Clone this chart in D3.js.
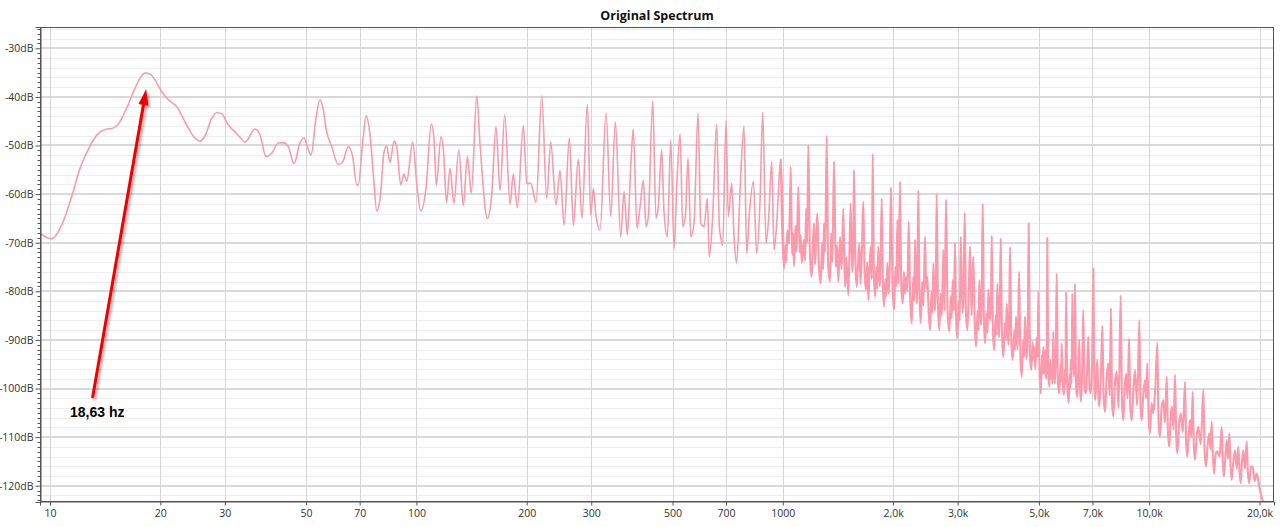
<!DOCTYPE html>
<html><head><meta charset="utf-8">
<script src="https://cdn.jsdelivr.net/npm/d3@7"></script>
<style>body{margin:0;background:#fff;overflow:hidden}</style>
</head><body><svg id="c" width="1280" height="527"></svg>
<script>
const chartTitle = "Original Spectrum";
const xTickValues = [10,20,30,50,70,100,200,300,500,700,1000,2000,3000,5000,7000,10000,20000];
const xTickLabels = ["10","20","30","50","70","100","200","300","500","700","1000","2,0k","3,0k","5,0k","7,0k","10,0k","20,0k"];
const yTickValues = [-30,-40,-50,-60,-70,-80,-90,-100,-110,-120];
const yTickLabels = ["-30dB","-40dB","-50dB","-60dB","-70dB","-80dB","-90dB","-100dB","-110dB","-120dB"];
const xDomain = [9.39, 21907];
const yDomain = [-123.35, -25.62];
// [frequency Hz, level dB] below 1 kHz
const spectrumLow = [[9.39,-68.1],[10.1,-69.2],[10.76,-66.4],[11.46,-60.5],[12.08,-54.7],[12.86,-50.1],[13.55,-47.5],[14.28,-46.6],[14.74,-46.5],[15.46,-45.3],[16.19,-42.3],[17.06,-38.2],[17.6,-36.2],[18.16,-35.1],[18.75,-35.3],[19.34,-36.5],[20.17,-38.9],[21.03,-40.6],[22.16,-42.0],[23.61,-45.8],[24.88,-48.5],[25.67,-49.1],[26.49,-48.0],[27.63,-44.4],[28.5,-43.2],[29.42,-43.5],[30.66,-45.8],[31.98,-47.2],[33.0,-48.3],[34.07,-49.3],[36.27,-46.6],[37.42,-47.8],[38.86,-52.3],[40.27,-51.6],[42.0,-49.5],[43.34,-49.4],[44.7,-50.2],[46.33,-53.7],[48.1,-49.5],[49.33,-48.4],[50.37,-50.2],[51.55,-52.0],[53.2,-44.4],[54.56,-40.6],[55.49,-42.0],[56.9,-47.2],[58.72,-50.2],[61.2,-53.9],[62.8,-53.5],[65.2,-50.2],[67.0,-52.3],[68.7,-58.1],[69.4,-58.1],[71.35,-49.2],[72.86,-43.9],[74.7,-47.8],[76.3,-56.1],[77.95,-63.5],[79.6,-60.9],[81.6,-51.3],[82.98,-50.1],[84.7,-53.5],[86.9,-49.1],[88.35,-50.2],[90.6,-58.1],[92.5,-55.9],[94.1,-57.4],[97.7,-49.3],[100.2,-57.8],[102.7,-63.5],[106.2,-58.8],[109.8,-45.6],[111.7,-48.5],[113.3,-58.2],[116.7,-48.2],[118.4,-50.6],[120.9,-61.7],[123.5,-54.7],[126.6,-61.9],[130.5,-50.9],[134.3,-62.4],[137.7,-52.3],[141.2,-59.8],[146.1,-39.8],[149.2,-49.9],[156.2,-65.0],[160.5,-60.2],[164.9,-46.1],[169.1,-59.2],[174.2,-43.7],[180.1,-62.1],[183.9,-55.9],[188.6,-62.8],[195.8,-45.9],[200.0,-57.8],[205.1,-57.8],[212.1,-61.7],[219.8,-39.8],[226.8,-60.9],[232.6,-49.3],[240.4,-62.2],[246.6,-55.2],[252.9,-66.4],[261.5,-48.4],[268.1,-66.4],[276.6,-52.8],[283.1,-65.0],[292.7,-41.5],[299.0,-64.3],[304,-58.8],[309.2,-64.6],[317.1,-67.4],[329.3,-43.2],[339.2,-64.6],[349.1,-45.1],[361.1,-68.8],[368.7,-59.5],[376.4,-68.4],[384.5,-54.4],[390.8,-46.6],[400,-67.0],[407.7,-62.6],[416.3,-57.2],[423.4,-66.7],[429.5,-64.6],[441.5,-40.8],[450.7,-65.0],[457.3,-62.6],[467.1,-50.9],[474.0,-63.6],[484,-68.8],[494.5,-48.9],[504.9,-71.2],[513.4,-58.5],[524.3,-47.6],[533.2,-66.7],[542.0,-64.6],[551.2,-52.6],[560.7,-68.8],[572.4,-66.0],[586.9,-43.4],[597.0,-66.0],[609.5,-66.7],[622.2,-60.9],[630.1,-72.9],[643.6,-64.6],[659.8,-45.6],[671.1,-66.7],[685.5,-70.5],[699.8,-44.9],[710,-64.6],[725.4,-57.8],[736,-68.8],[748.2,-74.2],[764.4,-59.2],[783.6,-46.0],[797.1,-72.2],[810.4,-64.0],[831,-57.4],[848.8,-72.2],[866.7,-61.2],[881.3,-43.2],[899.9,-70.1],[915.3,-64.6],[932.7,-53.3],[946.3,-71.5],[962.4,-66.0],[986.8,-52.8]];
// [frequency Hz, level dB] from 1 kHz up
const spectrumHigh = [[1007.6,-75.3],[1016,-70.5],[1022,-74.0],[1028.7,-67.4],[1040,-70.2],[1050.7,-54.4],[1060,-72.5],[1066,-68.0],[1073,-74.9],[1083,-66.5],[1090,-71.8],[1102.5,-58.5],[1112,-72.0],[1119,-68.5],[1126,-74.2],[1142.7,-69.4],[1150,-73.8],[1158,-63.0],[1165,-70.0],[1173.8,-49.9],[1186,-72.5],[1199.3,-77.0],[1208,-70.5],[1216.8,-66.0],[1225,-74.5],[1233,-69.0],[1242.3,-64.0],[1255,-75.0],[1269,-78.4],[1280,-70.0],[1288,-75.5],[1295.5,-66.0],[1305,-72.0],[1317.7,-48.0],[1330,-74.5],[1345.4,-78.0],[1355,-68.0],[1365,-74.0],[1379.7,-53.3],[1395,-75.0],[1405,-70.5],[1417.6,-78.0],[1432.5,-68.8],[1447,-75.5],[1462.5,-62.9],[1478,-79.1],[1490,-73.0],[1509.3,-80.8],[1520,-72.0],[1532,-61.9],[1545,-76.0],[1556,-72.5],[1564,-55.0],[1578,-74.0],[1591,-79.1],[1604,-74.5],[1617,-70.1],[1630,-78.5],[1643,-72.0],[1658,-61.6],[1672,-76.0],[1687,-79.7],[1700,-74.0],[1712,-81.8],[1725,-75.0],[1738,-70.8],[1750,-77.5],[1759.4,-51.7],[1772,-76.0],[1785,-81.1],[1800,-75.0],[1811,-79.5],[1822,-70.8],[1840,-79.0],[1850,-72.5],[1862,-60.9],[1875,-78.0],[1889,-83.2],[1905,-77.5],[1915,-81.0],[1929,-74.2],[1945,-80.5],[1958,-75.0],[1974,-58.6],[1993,-79.0],[2012,-83.8],[2030,-75.0],[2042,-79.0],[2054,-65.3],[2070,-78.5],[2088,-57.4],[2105,-79.0],[2125,-82.5],[2140,-76.0],[2155,-80.5],[2169,-77.0],[2187,-80.0],[2206,-65.7],[2225,-80.5],[2248,-86.6],[2270,-77.0],[2283,-82.0],[2296,-69.4],[2318,-82.5],[2330,-77.5],[2343,-59.2],[2360,-80.5],[2379,-86.6],[2400,-78.0],[2420,-83.0],[2444,-68.8],[2462,-79.5],[2480,-77.0],[2500,-84.0],[2522,-88.0],[2545,-80.0],[2560,-84.5],[2575,-74.2],[2600,-84.0],[2615,-79.5],[2630,-60.0],[2652,-83.0],[2674,-88.0],[2695,-80.5],[2718,-85.0],[2742,-71.5],[2765,-84.0],[2789,-61.1],[2817,-84.5],[2847,-88.3],[2875,-81.0],[2890,-85.5],[2909,-77.7],[2930,-84.0],[2951,-70.1],[2972,-85.5],[2994,-89.7],[3020,-82.0],[3040,-86.0],[3059,-68.8],[3095,-84.5],[3115,-80.0],[3137,-63.8],[3160,-84.0],[3188,-88.0],[3215,-81.0],[3243,-70.8],[3275,-85.0],[3290,-79.5],[3311,-72.9],[3340,-86.5],[3368,-91.4],[3400,-84.0],[3420,-88.0],[3439,-77.7],[3475,-87.0],[3490,-82.5],[3512,-61.9],[3540,-86.0],[3564,-90.7],[3600,-84.5],[3620,-88.5],[3639,-79.7],[3680,-86.0],[3700,-82.0],[3717,-68.6],[3745,-88.0],[3771,-92.1],[3810,-85.0],[3830,-89.0],[3850,-78.4],[3890,-89.5],[3910,-84.0],[3933,-69.1],[3965,-89.0],[3998,-93.5],[4040,-86.5],[4060,-90.0],[4085,-82.5],[4125,-91.0],[4148,-86.0],[4170,-70.9],[4205,-90.5],[4241,-94.1],[4285,-88.0],[4305,-92.0],[4330,-85.2],[4370,-92.0],[4390,-87.5],[4412,-76.0],[4450,-93.0],[4487,-97.6],[4530,-90.0],[4555,-93.5],[4581,-85.2],[4630,-94.0],[4660,-89.0],[4689,-66.0],[4725,-93.0],[4766,-96.2],[4805,-90.5],[4830,-94.0],[4848,-91.4],[4890,-96.0],[4930,-89.5],[4960,-93.5],[4981,-80.1],[5020,-96.5],[5057,-101.0],[5100,-93.0],[5120,-97.0],[5140,-91.4],[5165,-97.0],[5195,-92.1],[5230,-98.0],[5250,-94.0],[5270,-69.0],[5300,-96.5],[5337,-99.6],[5375,-94.0],[5400,-98.0],[5419,-96.2],[5445,-99.0],[5473,-88.3],[5505,-97.5],[5532,-98.9],[5560,-93.0],[5592,-76.3],[5635,-99.0],[5683,-101.0],[5725,-95.0],[5750,-98.5],[5770,-90.7],[5810,-99.5],[5854,-101.3],[5890,-96.0],[5910,-99.0],[5928,-80.1],[5980,-100.0],[6030,-103.0],[6070,-97.0],[6090,-100.0],[6106,-94.1],[6140,-99.0],[6169,-80.4],[6190,-96.0],[6205,-92.8],[6240,-97.5],[6273,-78.4],[6320,-100.0],[6366,-101.7],[6405,-96.0],[6446,-90.0],[6480,-100.5],[6516,-102.7],[6560,-96.5],[6607,-83.8],[6665,-100.0],[6723,-101.0],[6770,-96.0],[6821,-89.3],[6870,-99.5],[6923,-101.0],[6980,-96.0],[7039,-75.3],[7085,-100.0],[7127,-102.4],[7170,-98.0],[7217,-94.1],[7260,-101.0],[7307,-103.7],[7380,-97.5],[7447,-87.1],[7510,-102.0],[7574,-104.8],[7650,-98.0],[7732,-94.8],[7800,-101.5],[7864,-83.5],[7920,-103.0],[7980,-105.8],[8060,-99.0],[8153,-96.5],[8250,-104.0],[8358,-80.8],[8430,-103.0],[8498,-106.5],[8570,-100.0],[8644,-96.9],[8730,-102.0],[8810,-89.7],[8885,-104.5],[8959,-106.5],[9050,-100.5],[9147,-96.2],[9270,-103.5],[9400,-85.9],[9470,-104.0],[9540,-106.5],[9640,-101.0],[9739,-98.3],[9810,-102.0],[9881,-94.8],[9965,-106.0],[10050,-109.2],[10150,-103.0],[10261,-105.1],[10390,-100.0],[10522,-90.6],[10610,-107.5],[10703,-109.9],[10810,-104.0],[10926,-102.4],[11040,-107.0],[11161,-97.6],[11250,-109.0],[11346,-112.0],[11440,-106.0],[11537,-103.7],[11650,-108.5],[11761,-97.2],[11850,-110.0],[11932,-113.3],[12060,-107.5],[12190,-105.1],[12350,-109.0],[12524,-98.6],[12610,-111.0],[12705,-114.0],[12815,-109.5],[12924,-106.5],[13030,-110.0],[13143,-100.7],[13240,-112.0],[13335,-114.7],[13470,-110.0],[13614,-107.9],[13830,-111.5],[14050,-100.2],[14170,-113.0],[14289,-116.1],[14440,-111.5],[14588,-109.2],[14700,-112.5],[14808,-106.8],[14920,-114.0],[15028,-117.5],[15180,-113.5],[15343,-112.9],[15560,-114.0],[15773,-107.9],[15890,-115.5],[16000,-118.1],[16140,-114.0],[16274,-110.6],[16410,-114.5],[16542,-109.2],[16670,-116.0],[16792,-118.8],[16970,-115.0],[17147,-112.7],[17330,-116.5],[17506,-112.0],[17640,-117.0],[17770,-119.5],[17920,-115.0],[18063,-112.7],[18260,-116.5],[18454,-110.9],[18600,-117.5],[18758,-119.5],[18960,-116.0],[19164,-116.1],[19400,-119.0],[19651,-117.5],[19975,-120.2],[20277,-122.3],[20482,-123.6]];
const annotationText = "18,63 hz";
const arrowTip = [18.3, -38.4];
const arrowTail = [13.08, -101.7];
const labelAnchor = [11.34, -105.9];

const svg = d3.select("#c");
const L = 40, R = 1274, T = 27, B = 502;
const x = d3.scaleLog().domain(xDomain).range([L, R]);
const y = d3.scaleLinear().domain(yDomain).range([B, T]);

const defs = svg.append("defs");
defs.append("clipPath").attr("id","clip")
  .append("rect").attr("x",L).attr("y",T).attr("width",R-L).attr("height",B-T);
const shadow = defs.append("filter").attr("id","sh").attr("x","-50%").attr("y","-10%").attr("width","200%").attr("height","120%");
shadow.append("feDropShadow").attr("dx",2).attr("dy",2).attr("stdDeviation",1.5).attr("flood-color","#000").attr("flood-opacity",0.35);

// grid
const minorY = d3.range(-122, -25, 2).filter(v => v % 10 !== 0);
svg.append("g").selectAll("line").data(minorY).join("line")
  .attr("x1",L).attr("x2",R).attr("y1",d=>Math.round(y(d))+0.5).attr("y2",d=>Math.round(y(d))+0.5)
  .attr("stroke","#eeeeee").attr("stroke-width",1);
svg.append("g").selectAll("line").data(yTickValues).join("line")
  .attr("x1",L).attr("x2",R).attr("y1",d=>Math.round(y(d))).attr("y2",d=>Math.round(y(d)))
  .attr("stroke","#d9d9d9").attr("stroke-width",2);
svg.append("g").selectAll("line").data(xTickValues).join("line")
  .attr("y1",T).attr("y2",B).attr("x1",d=>Math.round(x(d))+0.5).attr("x2",d=>Math.round(x(d))+0.5)
  .attr("stroke","#d6d6d6").attr("stroke-width",1);

// spectrum (one series; the dense upper part drawn slightly heavier, as in the reference rendering)
const line = d3.line().x(d=>x(d[0])).y(d=>y(d[1])).curve(d3.curveMonotoneX);
const plot = svg.append("g").attr("clip-path","url(#clip)");
plot.append("path").datum(spectrumLow.concat([spectrumHigh[0]]))
  .attr("fill","none").attr("stroke","#f59caf").attr("stroke-width",1.6).attr("stroke-linejoin","round")
  .attr("d", line);
plot.append("path").datum([spectrumLow[spectrumLow.length-1]].concat(spectrumHigh))
  .attr("fill","none").attr("stroke","#fb9aad").attr("stroke-width",2.1).attr("stroke-linejoin","round")
  .attr("d", line);

// frame
svg.append("rect").attr("x",L+0.5).attr("y",T+0.5).attr("width",R-L-1).attr("height",B-T-1)
  .attr("fill","none").attr("stroke","#555").attr("stroke-width",1);

// axes
const yAxis = d3.axisLeft(y).tickValues(yTickValues).tickFormat((d,i)=>yTickLabels[i]).tickSize(5).tickPadding(2);
const gy = svg.append("g").attr("transform",`translate(${L+0.5},0)`).call(yAxis);
const minorTicks = d3.range(-123, -25, 1).filter(v => v % 10 !== 0);
gy.append("g").selectAll("line").data(minorTicks).join("line")
  .attr("x1",-3).attr("x2",0).attr("y1",d=>Math.round(y(d))+0.5).attr("y2",d=>Math.round(y(d))+0.5).attr("stroke","#555");
const xAxis = d3.axisBottom(x).tickValues(xTickValues).tickFormat((d,i)=>xTickLabels[i]).tickSize(4).tickPadding(4);
const gx = svg.append("g").attr("transform",`translate(0,${B-0.5})`).call(xAxis);
[gx, gy].forEach(g => {
  g.select(".domain").attr("stroke","#555");
  g.selectAll(".tick line").attr("stroke","#555");
  g.selectAll("text").attr("fill","#333").style("font-family","'Open Sans','Noto Sans',sans-serif").style("font-size","10.5px");
});

// title
svg.append("text").attr("x",(L+R)/2).attr("y",20).attr("text-anchor","middle")
  .style("font-family","'Open Sans','Noto Sans',sans-serif").style("font-weight","700").style("font-size","12.5px")
  .attr("fill","#111").text(chartTitle);

// annotation
const ax1 = x(arrowTail[0]), ay1 = y(arrowTail[1]), ax2 = x(arrowTip[0]), ay2 = y(arrowTip[1]);
const ang = Math.atan2(ay2-ay1, ax2-ax1);
const headLen = 16, headW = 5;
const bx = ax2 - headLen*Math.cos(ang), by = ay2 - headLen*Math.sin(ang);
const ga = svg.append("g").attr("filter","url(#sh)");
ga.append("line").attr("x1",ax1).attr("y1",ay1).attr("x2",bx).attr("y2",by)
  .attr("stroke","#f00000").attr("stroke-width",3).attr("stroke-linecap","round");
ga.append("path").attr("fill","#f00000")
  .attr("d",`M${ax2},${ay2}L${bx+headW*Math.sin(ang)},${by-headW*Math.cos(ang)}L${bx-headW*Math.sin(ang)},${by+headW*Math.cos(ang)}Z`);
svg.append("text").attr("x",x(labelAnchor[0])).attr("y",y(labelAnchor[1]))
  .style("font-family","'Liberation Sans',Arial,sans-serif").style("font-weight","700").style("font-size","14px")
  .attr("fill","#000").text(annotationText);
</script></body></html>
